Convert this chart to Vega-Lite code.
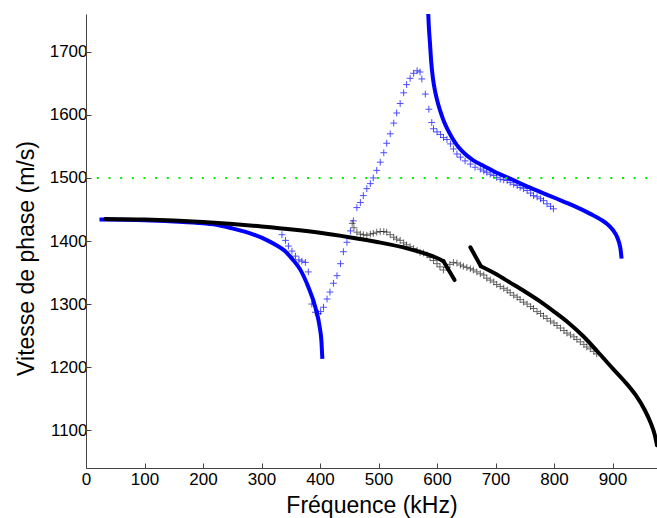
{
  "$schema": "https://vega.github.io/schema/vega-lite/v6.json",
  "width": 571,
  "height": 454,
  "autosize": "none",
  "padding": {"left": 86, "top": 14, "right": 0, "bottom": 50},
  "config": {
    "view": {"stroke": null},
    "font": "Liberation Sans",
    "axis": {
      "grid": false,
      "domainColor": "#444444",
      "tickColor": "#444444",
      "labelColor": "#000000",
      "titleColor": "#000000",
      "labelFont": "Liberation Sans",
      "titleFont": "Liberation Sans",
      "labelFontSize": 17,
      "titleFontSize": 23,
      "titleFontWeight": "normal",
      "tickSize": -5,
      "labelFlush": false,
      "labelOverlap": false,
      "format": "d"
    }
  },
  "datasets": {
    "blueLine": [
      {"f": 23, "v": 1434, "b": "1"}, {"f": 100, "v": 1433, "b": "1"}, {"f": 150, "v": 1431, "b": "1"}, {"f": 200, "v": 1428, "b": "1"},
      {"f": 227, "v": 1425, "b": "1"}, {"f": 250, "v": 1420, "b": "1"}, {"f": 284, "v": 1411, "b": "1"}, {"f": 310, "v": 1401, "b": "1"},
      {"f": 324, "v": 1394, "b": "1"}, {"f": 340, "v": 1384, "b": "1"}, {"f": 352, "v": 1372, "b": "1"}, {"f": 366, "v": 1355, "b": "1"},
      {"f": 380, "v": 1327, "b": "1"}, {"f": 392, "v": 1295, "b": "1"}, {"f": 399, "v": 1266, "b": "1"}, {"f": 402.5, "v": 1240, "b": "1"},
      {"f": 404, "v": 1213, "b": "1"},
      {"f": 584.5, "v": 1770, "b": "2"}, {"f": 586, "v": 1740, "b": "2"}, {"f": 588, "v": 1713, "b": "2"}, {"f": 590, "v": 1685, "b": "2"},
      {"f": 593, "v": 1658, "b": "2"}, {"f": 597, "v": 1636, "b": "2"}, {"f": 602, "v": 1617, "b": "2"}, {"f": 607, "v": 1602, "b": "2"},
      {"f": 612, "v": 1589, "b": "2"}, {"f": 618, "v": 1577, "b": "2"}, {"f": 625, "v": 1565, "b": "2"}, {"f": 634, "v": 1552, "b": "2"},
      {"f": 648, "v": 1538, "b": "2"}, {"f": 662, "v": 1528, "b": "2"}, {"f": 680, "v": 1519, "b": "2"}, {"f": 700, "v": 1509, "b": "2"},
      {"f": 720, "v": 1501, "b": "2"}, {"f": 748, "v": 1489, "b": "2"}, {"f": 776, "v": 1478, "b": "2"}, {"f": 805, "v": 1467, "b": "2"},
      {"f": 833, "v": 1456, "b": "2"}, {"f": 862, "v": 1443, "b": "2"}, {"f": 880, "v": 1434, "b": "2"}, {"f": 892, "v": 1426, "b": "2"},
      {"f": 901, "v": 1417, "b": "2"}, {"f": 907, "v": 1408, "b": "2"}, {"f": 911, "v": 1398, "b": "2"}, {"f": 913.5, "v": 1388, "b": "2"},
      {"f": 915.5, "v": 1372, "b": "2"}
    ],
    "blackLine": [
      {"f": 33, "v": 1435, "b": "1a"}, {"f": 100, "v": 1434, "b": "1a"}, {"f": 200, "v": 1430, "b": "1a"}, {"f": 300, "v": 1423, "b": "1a"},
      {"f": 400, "v": 1413, "b": "1a"}, {"f": 450, "v": 1406, "b": "1a"}, {"f": 500, "v": 1398, "b": "1a"}, {"f": 550, "v": 1388, "b": "1a"},
      {"f": 580, "v": 1380, "b": "1a"}, {"f": 600, "v": 1373, "b": "1a"}, {"f": 611, "v": 1368, "b": "1a"},
      {"f": 611, "v": 1368, "b": "1b"}, {"f": 630, "v": 1338, "b": "1b"},
      {"f": 657, "v": 1390, "b": "2a"}, {"f": 675, "v": 1360, "b": "2a"},
      {"f": 675, "v": 1360, "b": "2b"}, {"f": 700, "v": 1348, "b": "2b"}, {"f": 725, "v": 1334, "b": "2b"}, {"f": 750, "v": 1320, "b": "2b"},
      {"f": 775, "v": 1305, "b": "2b"}, {"f": 800, "v": 1288, "b": "2b"}, {"f": 825, "v": 1270, "b": "2b"}, {"f": 850, "v": 1249, "b": "2b"},
      {"f": 875, "v": 1224, "b": "2b"}, {"f": 900, "v": 1198, "b": "2b"}, {"f": 920, "v": 1178, "b": "2b"}, {"f": 940, "v": 1155, "b": "2b"},
      {"f": 955, "v": 1132, "b": "2b"}, {"f": 965, "v": 1112, "b": "2b"}, {"f": 972, "v": 1093, "b": "2b"}, {"f": 976, "v": 1076, "b": "2b"}
    ],
    "blueCross": [
      {"f": 335, "v": 1410}, {"f": 341, "v": 1401}, {"f": 346, "v": 1392}, {"f": 352, "v": 1384}, {"f": 358, "v": 1376},
      {"f": 364, "v": 1370}, {"f": 369, "v": 1368}, {"f": 375, "v": 1366}, {"f": 380, "v": 1351}, {"f": 386, "v": 1300},
      {"f": 392, "v": 1287}, {"f": 397, "v": 1285}, {"f": 401, "v": 1288}, {"f": 406, "v": 1295}, {"f": 412, "v": 1308},
      {"f": 417, "v": 1319}, {"f": 423, "v": 1333}, {"f": 429, "v": 1345}, {"f": 435, "v": 1364}, {"f": 440, "v": 1383},
      {"f": 446, "v": 1398}, {"f": 452, "v": 1416}, {"f": 457, "v": 1432}, {"f": 463, "v": 1453}, {"f": 469, "v": 1461},
      {"f": 474, "v": 1472}, {"f": 480, "v": 1483}, {"f": 486, "v": 1491}, {"f": 491, "v": 1500}, {"f": 497, "v": 1512},
      {"f": 503, "v": 1525}, {"f": 509, "v": 1540}, {"f": 514, "v": 1555}, {"f": 520, "v": 1570}, {"f": 526, "v": 1587},
      {"f": 531, "v": 1603}, {"f": 537, "v": 1618}, {"f": 543, "v": 1635}, {"f": 548, "v": 1648}, {"f": 554, "v": 1658},
      {"f": 560, "v": 1666}, {"f": 566, "v": 1670}, {"f": 571, "v": 1668}, {"f": 574, "v": 1657}, {"f": 580, "v": 1633},
      {"f": 586, "v": 1609}, {"f": 591, "v": 1588}, {"f": 594, "v": 1578}, {"f": 600, "v": 1573}, {"f": 606, "v": 1569},
      {"f": 611, "v": 1564}, {"f": 617, "v": 1561}, {"f": 623, "v": 1554}, {"f": 628, "v": 1546}, {"f": 634, "v": 1538},
      {"f": 640, "v": 1533}, {"f": 648, "v": 1527}, {"f": 657, "v": 1522}, {"f": 665, "v": 1517}, {"f": 674, "v": 1514},
      {"f": 680, "v": 1511}, {"f": 685, "v": 1509}, {"f": 691, "v": 1506}, {"f": 697, "v": 1504}, {"f": 702, "v": 1501},
      {"f": 708, "v": 1498}, {"f": 714, "v": 1497}, {"f": 720, "v": 1496}, {"f": 725, "v": 1493}, {"f": 731, "v": 1490},
      {"f": 737, "v": 1488}, {"f": 742, "v": 1485}, {"f": 748, "v": 1483}, {"f": 754, "v": 1480}, {"f": 760, "v": 1476},
      {"f": 765, "v": 1472}, {"f": 771, "v": 1470}, {"f": 777, "v": 1467}, {"f": 782, "v": 1464}, {"f": 788, "v": 1459},
      {"f": 794, "v": 1455}, {"f": 799, "v": 1451}
    ],
    "grayCross": [
      {"f": 455, "v": 1428}, {"f": 458, "v": 1421}, {"f": 463, "v": 1414}, {"f": 469, "v": 1411}, {"f": 474, "v": 1410},
      {"f": 480, "v": 1409}, {"f": 486, "v": 1411}, {"f": 491, "v": 1412}, {"f": 497, "v": 1414}, {"f": 503, "v": 1415},
      {"f": 509, "v": 1415}, {"f": 514, "v": 1414}, {"f": 520, "v": 1410}, {"f": 526, "v": 1406}, {"f": 531, "v": 1403},
      {"f": 537, "v": 1401}, {"f": 543, "v": 1397}, {"f": 548, "v": 1394}, {"f": 554, "v": 1391}, {"f": 560, "v": 1388},
      {"f": 566, "v": 1385}, {"f": 571, "v": 1382}, {"f": 577, "v": 1381}, {"f": 583, "v": 1378}, {"f": 588, "v": 1374},
      {"f": 594, "v": 1369}, {"f": 600, "v": 1364}, {"f": 605, "v": 1359}, {"f": 611, "v": 1354}, {"f": 617, "v": 1358},
      {"f": 622, "v": 1363}, {"f": 628, "v": 1366}, {"f": 634, "v": 1365}, {"f": 640, "v": 1362}, {"f": 645, "v": 1360},
      {"f": 651, "v": 1358}, {"f": 657, "v": 1356}, {"f": 662, "v": 1354}, {"f": 668, "v": 1351}, {"f": 674, "v": 1348},
      {"f": 680, "v": 1346}, {"f": 685, "v": 1341}, {"f": 691, "v": 1338}, {"f": 697, "v": 1335}, {"f": 702, "v": 1331},
      {"f": 708, "v": 1328}, {"f": 714, "v": 1325}, {"f": 720, "v": 1322}, {"f": 725, "v": 1318}, {"f": 731, "v": 1314},
      {"f": 737, "v": 1311}, {"f": 742, "v": 1307}, {"f": 748, "v": 1303}, {"f": 754, "v": 1300}, {"f": 760, "v": 1296},
      {"f": 765, "v": 1293}, {"f": 771, "v": 1288}, {"f": 777, "v": 1285}, {"f": 782, "v": 1281}, {"f": 788, "v": 1277},
      {"f": 794, "v": 1273}, {"f": 800, "v": 1270}, {"f": 805, "v": 1266}, {"f": 811, "v": 1262}, {"f": 817, "v": 1258},
      {"f": 822, "v": 1254}, {"f": 828, "v": 1251}, {"f": 834, "v": 1248}, {"f": 839, "v": 1244}, {"f": 845, "v": 1240},
      {"f": 851, "v": 1236}, {"f": 856, "v": 1232}, {"f": 862, "v": 1229}, {"f": 868, "v": 1225}, {"f": 873, "v": 1221}
    ],
    "green": [
      {"f": 18.5, "v": 1500}, {"f": 976, "v": 1500}
    ]
  },
  "encoding": {
    "x": {
      "field": "f",
      "type": "quantitative",
      "scale": {"domain": [0, 976], "nice": false, "zero": false},
      "axis": {
        "values": [0, 100, 200, 300, 400, 500, 600, 700, 800, 900],
        "title": "Fréquence (kHz)",
        "labelPadding": 8,
        "titleX": 285.5,
        "titleY": 44.7,
        "titleBaseline": "alphabetic",
        "titleAlign": "center",
        "titleAnchor": null
      }
    },
    "y": {
      "field": "v",
      "type": "quantitative",
      "scale": {"domain": [1040, 1760], "nice": false, "zero": false},
      "axis": {
        "values": [1100, 1200, 1300, 1400, 1500, 1600, 1700],
        "title": "Vitesse de phase (m/s)",
        "labelPadding": 4,
        "titleAngle": 270,
        "titleX": -53,
        "titleY": 244,
        "titleBaseline": "alphabetic",
        "titleAlign": "center",
        "titleAnchor": null
      }
    }
  },
  "layer": [
    {
      "data": {"name": "blueLine"},
      "mark": {"type": "line", "color": "#0000ff", "strokeWidth": 4, "clip": true, "interpolate": "monotone", "strokeJoin": "round"},
      "encoding": {"detail": {"field": "b", "type": "nominal"}}
    },
    {
      "data": {"name": "blackLine"},
      "mark": {"type": "line", "color": "#000000", "strokeWidth": 4, "clip": true, "interpolate": "monotone", "strokeCap": "round", "strokeJoin": "round"},
      "encoding": {"detail": {"field": "b", "type": "nominal"}}
    },
    {
      "data": {"name": "blueCross"},
      "mark": {"type": "point", "shape": "M-1,0H1M0,-1V1", "size": 46, "filled": false, "stroke": "#0000ff", "strokeWidth": 1, "opacity": 0.7, "clip": true}
    },
    {
      "data": {"name": "grayCross"},
      "mark": {"type": "point", "shape": "M-1,0H1M0,-1V1", "size": 46, "filled": false, "stroke": "#000000", "strokeWidth": 1, "opacity": 0.6, "clip": true}
    },
    {
      "data": {"name": "green"},
      "mark": {"type": "line", "color": "#00ee00", "strokeWidth": 2, "strokeDash": [2, 9.67], "clip": true}
    }
  ]
}
